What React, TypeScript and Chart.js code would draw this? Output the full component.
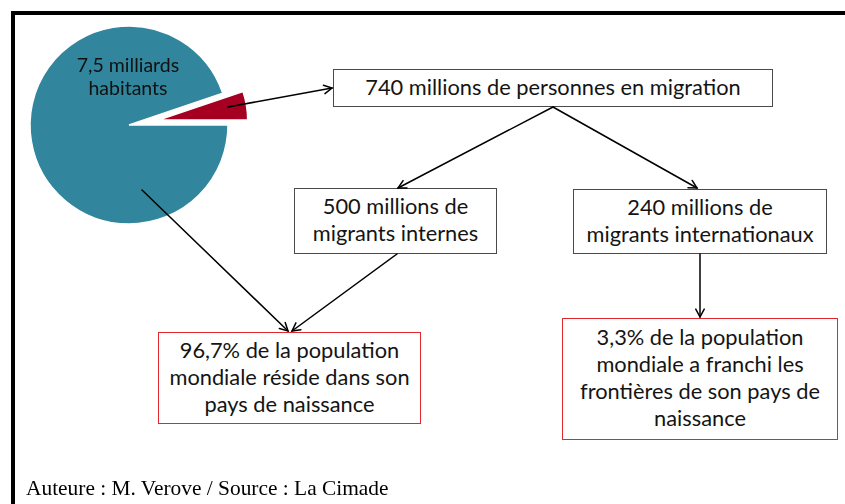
import React, { useEffect, useRef } from "react";
import { Chart, registerables } from "chart.js";

Chart.register(...registerables);

// ---- data ----
const sliceLabels = ["Population résidant dans son pays de naissance", "Personnes en migration"];
const sliceValues = [94.8, 5.2];
const sliceColors = ["#31859C", "#A50021"];
const pieLabel = ["7,5 milliards", "habitants"];
const topBox = ["740 millions de personnes en migration"];
const internalBox = ["500 millions de", "migrants internes"];
const internationalBox = ["240 millions de", "migrants internationaux"];
const residentBox = ["96,7% de la population", "mondiale réside dans son", "pays de naissance"];
const crossedBox = ["3,3% de la population", "mondiale a franchi les", "frontières de son pays de", "naissance"];
const sourceText = "Auteure : M. Verove / Source : La Cimade";

const FONT = "Lato, 'Open Sans', sans-serif";
const GREY = "#4a4a4a";
const RED = "#E0282E";
const BOX_FONT = 21.8;
const EXPLODE = 30;
const EXPLODED_SCALE = 0.9;

type BoxProps = {
  lines: string[];
  left: number;
  top: number;
  width: number;
  height: number;
  border: string;
  fontSize: number;
  lineHeight: number;
};

function Box({ lines, left, top, width, height, border, fontSize, lineHeight }: BoxProps) {
  return (
    <div
      style={{
        position: "absolute",
        left,
        top,
        width,
        height,
        boxSizing: "border-box",
        border: `1.5px solid ${border}`,
        paddingBottom: 4,
        background: "#fff",
        display: "flex",
        flexDirection: "column",
        justifyContent: "center",
        alignItems: "center",
        fontFamily: FONT,
        fontSize,
        lineHeight: `${lineHeight}px`,
        color: "#141414",
        whiteSpace: "nowrap",
      }}
    >
      {lines.map((l) => (
        <div key={l}>{l}</div>
      ))}
    </div>
  );
}

function Arrow({ x1, y1, x2, y2 }: { x1: number; y1: number; x2: number; y2: number }) {
  const a = Math.atan2(y2 - y1, x2 - x1);
  const L = 9;
  const s = (28 * Math.PI) / 180;
  const p1 = [x2 - L * Math.cos(a - s), y2 - L * Math.sin(a - s)];
  const p2 = [x2 - L * Math.cos(a + s), y2 - L * Math.sin(a + s)];
  return (
    <g stroke="#000" strokeWidth={1.5} fill="none" strokeLinecap="round">
      <line x1={x1} y1={y1} x2={x2} y2={y2} />
      <polyline points={`${p1[0]},${p1[1]} ${x2},${y2} ${p2[0]},${p2[1]}`} />
    </g>
  );
}

export default function App() {
  const ref = useRef<HTMLCanvasElement>(null);

  useEffect(() => {
    // Explode the small slice (moved out along its bisector, drawn a bit smaller)
    const explodeSlice = {
      id: "explodeSlice",
      afterDatasetsUpdate(chart: any) {
        const arc = chart.getDatasetMeta(0).data[1];
        if (!arc) return;
        const mid = (arc.startAngle + arc.endAngle) / 2;
        arc.x = arc.x + EXPLODE * Math.cos(mid);
        arc.y = arc.y + EXPLODE * Math.sin(mid);
        arc.outerRadius = arc.outerRadius * EXPLODED_SCALE;
      },
    };
    const chart = new Chart(ref.current as HTMLCanvasElement, {
      type: "pie",
      data: {
        labels: sliceLabels,
        datasets: [
          {
            data: sliceValues,
            backgroundColor: sliceColors,
            borderColor: "#ffffff",
            borderWidth: 1.5,
            radius: 99,
            rotation: 90,
          } as any,
        ],
      },
      options: {
        responsive: false,
        animation: false,
        events: [],
        plugins: { legend: { display: false }, tooltip: { enabled: false }, title: { display: false } },
      },
      plugins: [explodeSlice],
    });
    return () => chart.destroy();
  }, []);

  return (
    <div
      style={{
        position: "absolute",
        left: 0,
        top: 0,
        width: 845,
        height: 504,
        overflow: "hidden",
        background: "#fff",
      }}
    >
      <div
        style={{
          position: "absolute",
          left: 11,
          top: 11,
          width: 834,
          height: 493,
          borderTop: "4px solid #000",
          borderLeft: "4px solid #000",
        }}
      />
      <canvas ref={ref} width={258} height={250} style={{ position: "absolute", left: 0, top: 0 }} />
      <div
        style={{
          position: "absolute",
          left: 0,
          top: 53,
          width: 256,
          textAlign: "center",
          fontFamily: FONT,
          fontSize: 19.5,
          lineHeight: "23px",
          color: "#111",
        }}
      >
        {pieLabel.map((l) => (
          <div key={l}>{l}</div>
        ))}
      </div>

      <Box lines={topBox} left={333} top={69} width={440} height={38} border={GREY} fontSize={BOX_FONT} lineHeight={27} />
      <Box lines={internalBox} left={294} top={188} width={203} height={66} border={GREY} fontSize={BOX_FONT} lineHeight={27} />
      <Box lines={internationalBox} left={573} top={189} width={254} height={65} border={GREY} fontSize={BOX_FONT} lineHeight={27} />
      <Box lines={residentBox} left={158} top={332} width={263} height={92} border={RED} fontSize={BOX_FONT} lineHeight={27} />
      <Box lines={crossedBox} left={562} top={318} width={276} height={122} border={RED} fontSize={BOX_FONT} lineHeight={27} />

      <svg width={845} height={504} style={{ position: "absolute", left: 0, top: 0 }}>
        <Arrow x1={228} y1={107} x2={332} y2={88} />
        <Arrow x1={553} y1={107} x2={398} y2={188} />
        <Arrow x1={553} y1={107} x2={697} y2={188} />
        <Arrow x1={142} y1={190} x2={288} y2={331} />
        <Arrow x1={397} y1={254} x2={292} y2={331} />
        <Arrow x1={700} y1={254} x2={700} y2={317} />
      </svg>

      <div
        style={{
          position: "absolute",
          left: 26,
          top: 476,
          fontFamily: "'Liberation Serif', 'Times New Roman', serif",
          fontSize: 21.4,
          lineHeight: "24px",
          color: "#000",
          whiteSpace: "nowrap",
        }}
      >
        {sourceText}
      </div>
    </div>
  );
}
